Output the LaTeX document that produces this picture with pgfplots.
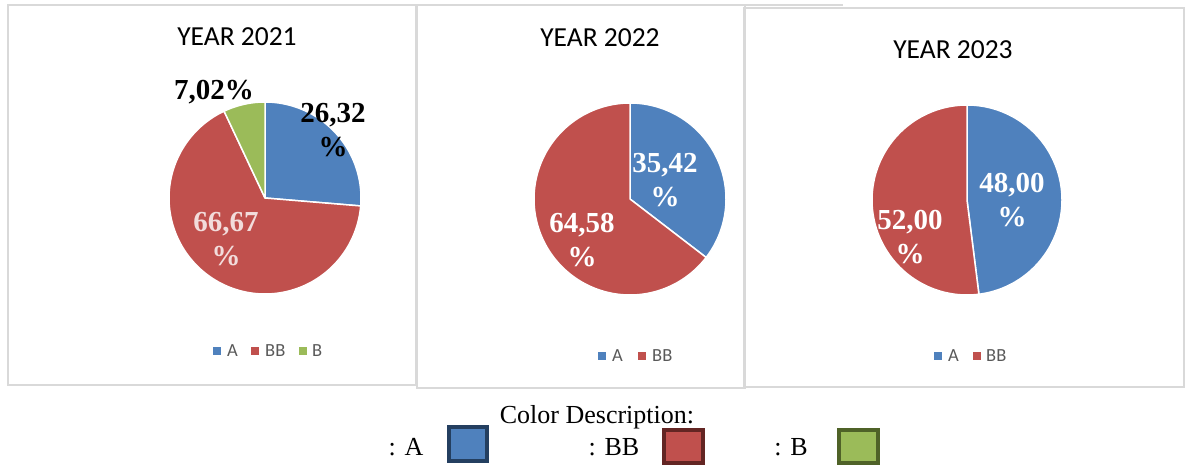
\documentclass[border=0pt]{standalone}
\usepackage{pgfplots}
\pgfplotsset{compat=1.18}
\usepackage{fontspec}
\setmainfont{Liberation Serif}
\newfontfamily\calfont{Carlito}
\definecolor{cA}{HTML}{4F81BD}
\definecolor{cBB}{HTML}{C0504D}
\definecolor{cB}{HTML}{9BBB59}
\definecolor{dA}{HTML}{243F60}
\definecolor{dBB}{HTML}{632523}
\definecolor{dB}{HTML}{4F6228}
\definecolor{frame}{HTML}{D9D9D9}
\definecolor{legtxt}{HTML}{595959}
\definecolor{pinkish}{HTML}{F2DCDB}
\newcommand\lbl{\fontsize{29}{34}\selectfont\bfseries}
\newcommand\ttl{\calfont\fontsize{27.5}{30}\selectfont}
\newcommand\lgd{\calfont\fontsize{18.5}{20}\selectfont}
\newcommand\sq[1]{\textcolor{#1}{\rule{7.5pt}{7.5pt}}}
\begin{document}
\begin{tikzpicture}
\begin{axis}[width=1187pt, height=465pt, scale only axis,
  xmin=0, xmax=1187, ymin=0, ymax=465, hide axis, clip=false]
\path (rel axis cs:0,0) rectangle (rel axis cs:1,1);
% panel frames
\draw[frame, line width=1.5pt] (8,80) rectangle (416,460);
\draw[frame, line width=1.5pt] (417,77) rectangle (745,460);
\draw[frame, line width=1.5pt] (745,460) -- (843,460);
\draw[frame, line width=1.5pt] (744,78) rectangle (1184,457);
% ---- YEAR 2021: A 26.32, BB 66.67, B 7.02 ----
\addplot[fill=cA, draw=white, line width=1.5pt, line join=round, domain={90-3.6*26.32}:90, samples=90, variable=\t]
  ({265+96*cos(t)},{267+96*sin(t)}) -- (265,267) -- cycle;
\addplot[fill=cBB, draw=white, line width=1.5pt, line join=round, domain={90-3.6*(26.32+66.67)}:{90-3.6*26.32}, samples=150, variable=\t]
  ({265+96*cos(t)},{267+96*sin(t)}) -- (265,267) -- cycle;
\addplot[fill=cB, draw=white, line width=1.5pt, line join=round, domain={90-3.6*(26.32+66.67+7.02)}:{90-3.6*(26.32+66.67)}, samples=30, variable=\t]
  ({265+96*cos(t)},{267+96*sin(t)}) -- (265,267) -- cycle;
% ---- YEAR 2022: A 35.42, BB 64.58 ----
\addplot[fill=cA, draw=white, line width=1.5pt, line join=round, domain={90-3.6*35.42}:90, samples=100, variable=\t]
  ({630+96*cos(t)},{266+96*sin(t)}) -- (630,266) -- cycle;
\addplot[fill=cBB, draw=white, line width=1.5pt, line join=round, domain={90-3.6*(35.42+64.58)}:{90-3.6*35.42}, samples=150, variable=\t]
  ({630+96*cos(t)},{266+96*sin(t)}) -- (630,266) -- cycle;
% ---- YEAR 2023: A 48.00, BB 52.00 ----
\addplot[fill=cA, draw=white, line width=1.5pt, line join=round, domain={90-3.6*48.00}:90, samples=120, variable=\t]
  ({967+95*cos(t)},{265+95*sin(t)}) -- (967,265) -- cycle;
\addplot[fill=cBB, draw=white, line width=1.5pt, line join=round, domain={90-3.6*(48.00+52.00)}:{90-3.6*48.00}, samples=120, variable=\t]
  ({967+95*cos(t)},{265+95*sin(t)}) -- (967,265) -- cycle;
% titles
\node[font=\ttl] at (237,428) {YEAR 2021};
\node[font=\ttl] at (600,427) {YEAR 2022};
\node[font=\ttl] at (953,415) {YEAR 2023};
% data labels
\node[font=\lbl, align=center] at (214,373) {7,02\%};
\node[font=\lbl, align=center] at (333,334.5) {26,32\\\%};
\node[font=\lbl, align=center, text=pinkish] at (226,226) {66,67\\\%};
\node[font=\lbl, align=center, text=white] at (665,285) {35,42\\\%};
\node[font=\lbl, align=center, text=white] at (582,224.5) {64,58\\\%};
\node[font=\lbl, align=center, text=white] at (1012,264.5) {48,00\\\%};
\node[font=\lbl, align=center, text=white] at (910,227.5) {52,00\\\%};
% legends
\node[inner sep=0pt] at (217,114) {\sq{cA}};
\node[font=\lgd, text=legtxt, anchor=west, inner sep=0pt] at (227,114) {A};
\node[inner sep=0pt] at (255,114) {\sq{cBB}};
\node[font=\lgd, text=legtxt, anchor=west, inner sep=0pt] at (265,114) {BB};
\node[inner sep=0pt] at (303,114) {\sq{cB}};
\node[font=\lgd, text=legtxt, anchor=west, inner sep=0pt] at (312,114) {B};
\node[inner sep=0pt] at (602,109) {\sq{cA}};
\node[font=\lgd, text=legtxt, anchor=west, inner sep=0pt] at (612,109) {A};
\node[inner sep=0pt] at (642,109) {\sq{cBB}};
\node[font=\lgd, text=legtxt, anchor=west, inner sep=0pt] at (652,109) {BB};
\node[inner sep=0pt] at (938,109) {\sq{cA}};
\node[font=\lgd, text=legtxt, anchor=west, inner sep=0pt] at (948,109) {A};
\node[inner sep=0pt] at (977,109) {\sq{cBB}};
\node[font=\lgd, text=legtxt, anchor=west, inner sep=0pt] at (986,109) {BB};
% colour description
\node[font=\fontsize{26}{30}\selectfont] at (597,48) {Color Description:};
\node[font=\fontsize{26}{30}\selectfont] at (406,18) {: A};
\node[font=\fontsize{26}{30}\selectfont] at (614,18) {: BB};
\node[font=\fontsize{26}{30}\selectfont] at (791,18) {: B};
\filldraw[fill=cA, draw=dA, line width=4pt] (449,4) rectangle (487,38);
\filldraw[fill=cBB, draw=dBB, line width=4pt] (664,2) rectangle (703,35);
\filldraw[fill=cB, draw=dB, line width=4pt] (839,2) rectangle (878,35);
\end{axis}
\end{tikzpicture}
\end{document}
